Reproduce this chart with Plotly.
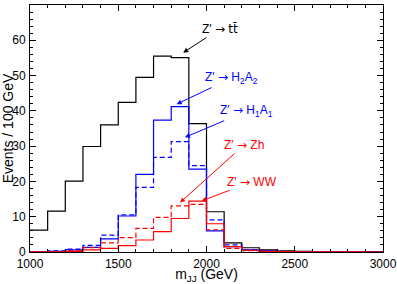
import plotly.graph_objects as go

# Bin edges (GeV), 100 GeV bins from 1000 to 3000
bin_edges = list(range(1000, 3001, 100))

tt = [6.2, 11.6, 20.1, 29.9, 36.0, 42.4, 49.5, 55.5, 55.1, 36.4,
      11.4, 2.6, 1.2, 0.6, 0.3, 0.15, 0.1, 0.05, 0.05, 0.02]
h2a2 = [0.1, 0.2, 0.6, 1.3, 3.7, 10.2, 22.0, 37.4, 41.2, 23.5,
        6.0, 1.5, 0.6, 0.3, 0.1, 0.05, 0.03, 0.02, 0.01, 0.0]
h1a1 = [0.1, 0.3, 0.8, 1.9, 4.8, 10.5, 18.3, 26.8, 31.3, 24.5,
        9.1, 2.0, 0.7, 0.3, 0.1, 0.05, 0.03, 0.02, 0.01, 0.0]
zh = [0.05, 0.1, 0.4, 1.2, 2.6, 4.1, 6.7, 9.8, 13.1, 13.5,
      6.3, 1.0, 0.4, 0.2, 0.1, 0.05, 0.03, 0.02, 0.01, 0.0]
ww = [0.02, 0.05, 0.2, 0.6, 1.0, 1.8, 3.4, 5.8, 9.5, 14.4,
      8.0, 1.5, 0.5, 0.2, 0.1, 0.05, 0.03, 0.02, 0.01, 0.0]

x_ticks = [1000, 1500, 2000, 2500, 3000]
y_ticks = [0, 10, 20, 30, 40, 50, 60, 70]


def step(vals):
    xs = bin_edges[:-1] + [bin_edges[-1]]
    ys = list(vals) + [vals[-1]]
    return xs, ys


fig = go.Figure()
series = [
    (tt, "black", "solid"),
    (h1a1, "#0000ff", "5px,3px"),
    (h2a2, "#0000ff", "solid"),
    (zh, "#ff0000", "5px,3px"),
    (ww, "#ff0000", "solid"),
]
for vals, col, dash in series:
    xs, ys = step(vals)
    fig.add_trace(go.Scatter(x=xs, y=ys, mode="lines", line_shape="hv",
                             line=dict(color=col, width=1.2, dash=dash),
                             showlegend=False, hoverinfo="skip"))

ARROW = "<span style='font-family:DejaVu Sans'>→</span>"
TTBAR = "<span style='font-family:DejaVu Sans'>tt\u0304</span>"
annots = [
    ("Z′ " + ARROW + " " + TTBAR, "black", 2074, 63.2, 1868, 56.5),
    ("Z′ " + ARROW + " H<sub>2</sub>A<sub>2</sub>", "#0000ff", 2142, 49.3, 1831, 41.9),
    ("Z′ " + ARROW + " H<sub>1</sub>A<sub>1</sub>", "#0000ff", 2227, 39.9, 1878, 32.5),
    ("Z′ " + ARROW + " Zh", "#ff0000", 2212, 30.3, 1850, 14.0),
    ("Z′ " + ARROW + " WW", "#ff0000", 2258, 19.9, 1973, 14.5),
]
for text, col, tx, ty, hx, hy in annots:
    fig.add_annotation(x=hx, y=hy, ax=tx, ay=ty, xref="x", yref="y",
                       axref="x", ayref="y", text=text, showarrow=True,
                       arrowhead=2, arrowsize=1, arrowwidth=1, arrowcolor=col,
                       font=dict(color=col, size=12, family="Liberation Sans, Arial"))

fig.update_layout(
    width=397, height=284,
    margin=dict(l=30, r=14, t=5, b=32, autoexpand=False),
    paper_bgcolor="white", plot_bgcolor="white",
    font=dict(family="Liberation Sans, Arial", size=12, color="black"),
    xaxis=dict(range=[1000, 3000], tickvals=x_ticks, ticks="inside", ticklen=6,
               tickcolor="black", showline=True, linecolor="black", linewidth=1,
               mirror="ticks", showgrid=False, zeroline=False, automargin=False,
               minor=dict(dtick=100, ticks="inside", ticklen=3, tickcolor="black"),
               title=dict(text="m<sub>JJ</sub> (GeV)", standoff=0),
               ticklabelstandoff=1,
               tickfont=dict(size=12)),
    yaxis=dict(range=[0, 70], tickvals=y_ticks, ticks="inside", ticklen=6,
               tickcolor="black", showline=True, linecolor="black", linewidth=1,
               mirror="ticks", showgrid=False, zeroline=False, automargin=False,
               minor=dict(dtick=2, ticks="inside", ticklen=3, tickcolor="black"),
               title=dict(text="Events / 100 GeV", standoff=0),
               ticklabelstandoff=1,
               tickfont=dict(size=12)),
)

fig.write_html("out.html", config={"displayModeBar": False},
               post_script="document.body.style.margin='0';document.body.style.overflow='hidden';")
